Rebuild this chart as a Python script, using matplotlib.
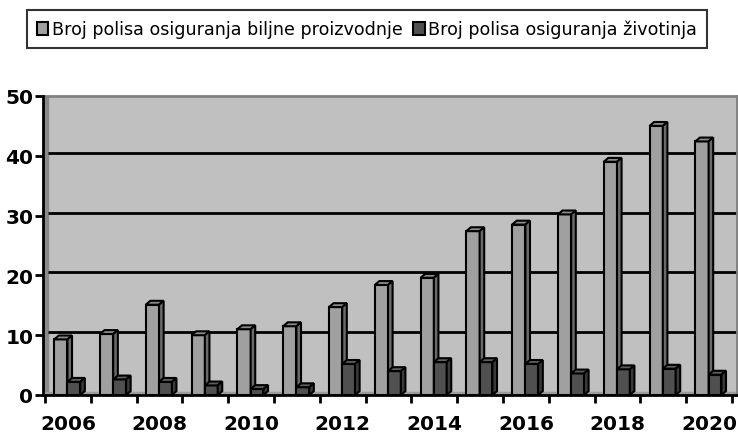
import numpy as np
import matplotlib
matplotlib.use("Agg")
import matplotlib.pyplot as plt
from matplotlib.patches import Polygon, Rectangle

# data
years = list(range(2006, 2021))
biljne = [9.3, 10.2, 15.1, 10.0, 11.0, 11.5, 14.7, 18.4, 19.6, 27.4, 28.5, 30.2, 39.0, 45.0, 42.4]
zivotinje = [2.2, 2.6, 2.2, 1.6, 1.0, 1.3, 5.2, 4.0, 5.5, 5.5, 5.2, 3.6, 4.3, 4.4, 3.4]
labels = ["Broj polisa osiguranja biljne proizvodnje", "Broj polisa osiguranja životinja"]
yticks = [0, 10, 20, 30, 40, 50]

front = ["#a0a0a0", "#505050"]
top = ["#8c8c8c", "#5e5e5e"]
side = ["#6a6a6a", "#3a3a3a"]
dx, dy = 0.10, 0.65   # fake 3d depth in data units

fig = plt.figure(figsize=(7.38, 4.35), dpi=100)
ax = fig.add_axes([43/738, 1 - 396/435, 694/738, 299/435])
ax.set_facecolor("#c0c0c0")
ax.set_xlim(-0.044, 15.11)
ax.set_ylim(0, 50)

# left wall and floor
ax.add_patch(Rectangle((-0.044, 0), 0.11, 50, color="#8a8a8a", zorder=1))
ax.add_patch(Rectangle((-0.044, 0), 15.2, 0.45, color="#9c9c9c", zorder=1))

# gridlines on the back wall
for v in yticks[1:-1]:
    ax.hlines(v + 0.5, 0.066, 15.11, color="black", lw=2, zorder=2)

x = np.arange(len(years))
offsets = [0.20, 0.49]
widths = [0.29, 0.28]
for k, vals in enumerate([biljne, zivotinje]):
    left = x + offsets[k]
    ax.bar(left, vals, width=widths[k], align="edge", color=front[k],
           edgecolor="black", lw=1.5, zorder=3 + 2*k, label=labels[k])
    for xl, v in zip(left, vals):
        w = widths[k]
        ax.add_patch(Polygon([(xl, v), (xl + w, v), (xl + w + dx, v + dy), (xl + dx, v + dy)],
                             closed=True, fc=top[k], ec="black", lw=1.5, zorder=3 + 2*k))
        ax.add_patch(Polygon([(xl + w, 0), (xl + w + dx, dy), (xl + w + dx, v + dy), (xl + w, v)],
                             closed=True, fc=side[k], ec="black", lw=1.5, zorder=3 + 2*k))

# axes styling
for s in ["top", "right"]:
    ax.spines[s].set_color("#808080")
    ax.spines[s].set_linewidth(2)
for s in ["left", "bottom"]:
    ax.spines[s].set_color("black")
    ax.spines[s].set_linewidth(2)
    ax.spines[s].set_zorder(10)

ax.set_yticks(yticks)
ax.set_yticklabels([str(t) for t in yticks], fontsize=14.5, fontweight="bold")
ax.tick_params(axis="y", length=6, width=2, pad=1)

ax.set_xticks(np.arange(0, 16))
ax.set_xticklabels([])
ax.tick_params(axis="x", which="major", length=6, width=2)
ax.set_xticks(x[::2] + 0.5, minor=True)
ax.set_xticklabels([str(y) for y in years[::2]], minor=True, fontsize=14.5, fontweight="bold")
ax.tick_params(axis="x", which="minor", length=0, pad=14)

leg = fig.legend(loc="center", bbox_to_anchor=(367/738, 1 - 30/435), ncol=2,
                 frameon=True, fancybox=False, edgecolor="black",
                 prop={"family": "DejaVu Sans", "size": 12.6},
                 handlelength=0.65, handleheight=0.75, handletextpad=0.2,
                 columnspacing=0.6, borderpad=0.55, borderaxespad=0)
leg.get_frame().set_linewidth(1.5)

fig.savefig("out.png", dpi=100)
